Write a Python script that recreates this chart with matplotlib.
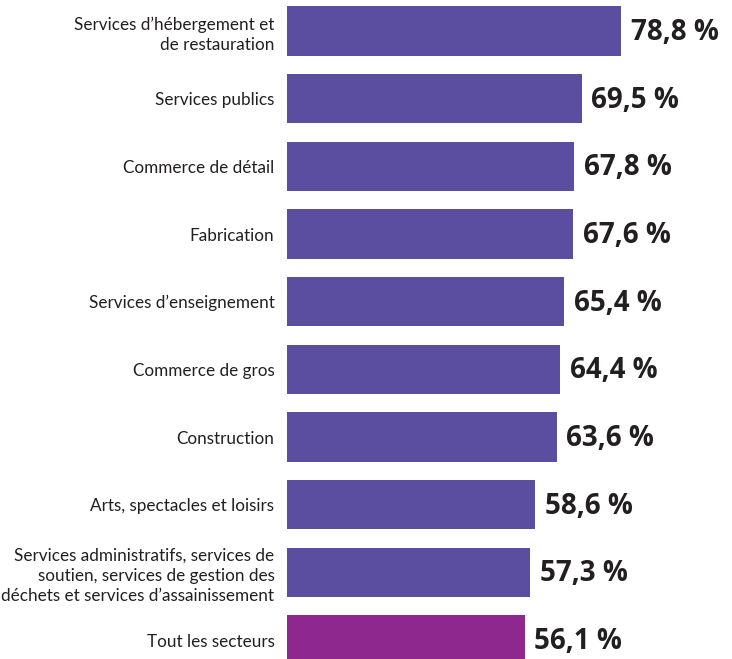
import numpy as np
from matplotlib import pyplot as plt

categories = [
    "Services d\u2019hébergement et\nde restauration",
    "Services publics",
    "Commerce de détail",
    "Fabrication",
    "Services d\u2019enseignement",
    "Commerce de gros",
    "Construction",
    "Arts, spectacles et loisirs",
    "Services administratifs, services de\nsoutien, services de gestion des\ndéchets et services d\u2019assainissement",
    "Tout les secteurs",
]
values = [78.8, 69.5, 67.8, 67.6, 65.4, 64.4, 63.6, 58.6, 57.3, 56.1]
value_labels = ["78,8 %", "69,5 %", "67,8 %", "67,6 %", "65,4 %",
                "64,4 %", "63,6 %", "58,6 %", "57,3 %", "56,1 %"]

bar_color = "#5b4d9f"
total_color = "#8e278e"
text_color = "#231f20"

fig = plt.figure(figsize=(7.32, 6.59), dpi=100)
ax = fig.add_axes([0.392, 0, 0.608, 1])

y = np.arange(len(categories))
colors = [bar_color] * (len(categories) - 1) + [total_color]
ax.barh(y, values, height=0.73, color=colors)

for yi, v, lab in zip(y, values, value_labels):
    ax.annotate(lab, (v, yi), xytext=(7, -1), textcoords="offset points",
                va="center", ha="left", fontsize=20, fontweight="bold",
                family="Open Sans", color=text_color)

ax.set_yticks(y)
ax.set_yticklabels(categories, fontsize=12.3, family="Lato", color=text_color,
                   linespacing=1.3)
ax.tick_params(axis="y", length=0, pad=9)
ax.set_xticks([])
ax.set_xlim(0, 105)
ax.set_ylim(9.28, -0.46)
for s in ax.spines.values():
    s.set_visible(False)

fig.savefig("out.png", dpi=100)
